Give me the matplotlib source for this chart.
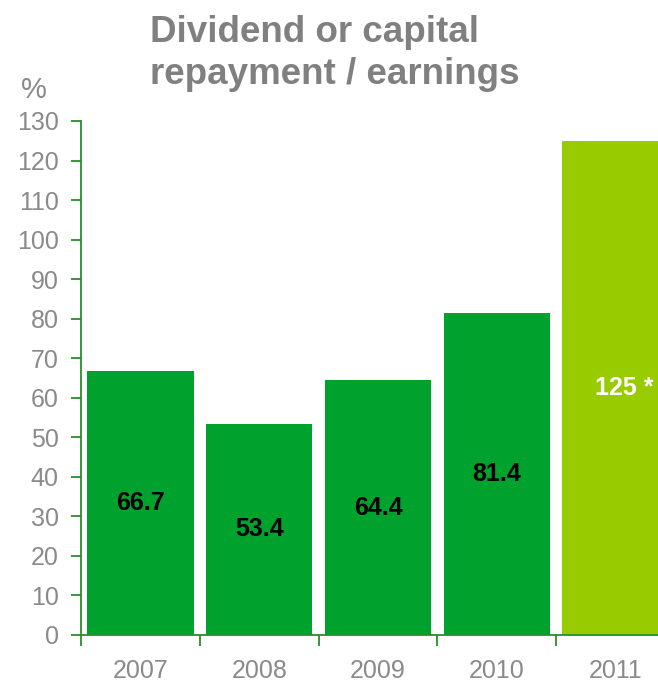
import matplotlib
matplotlib.use('Agg')
import matplotlib.pyplot as plt
from matplotlib.ticker import FixedLocator

years = ['2007', '2008', '2009', '2010', '2011']
payout = [66.7, 53.4, 64.4, 81.4, 125]
labels = ['66.7', '53.4', '64.4', '81.4', '125 *']
colors = ['#00a22e', '#00a22e', '#00a22e', '#00a22e', '#99cc00']

plt.rcParams['font.family'] = ['Liberation Sans', 'DejaVu Sans']
grey = '#8a8a8a'
axis_green = '#2a8f2a'

fig = plt.figure(figsize=(6.58, 6.85), dpi=100)
ax = fig.add_axes([81 / 658, 1 - 635 / 685, 1 - 81 / 658, (635 - 121) / 685])

x = list(range(len(years)))
ax.bar(x, payout, width=0.895, color=colors, zorder=2)

for i, (v, lab) in enumerate(zip(payout, labels)):
    if i == 4:
        ax.text(3.83, v / 2, lab, ha='left', va='center', fontsize=18,
                fontweight='bold', color='white', zorder=3)
    else:
        ax.text(i, v / 2, lab, ha='center', va='center', fontsize=18,
                fontweight='bold', color='black', zorder=3)

ax.set_xlim(-0.5, -0.5 + 577 / 118.8)
ax.set_ylim(0, 130)
ax.set_yticks(range(0, 131, 10))
ax.set_xticks(x)
ax.set_xticklabels(years)
ax.xaxis.set_minor_locator(FixedLocator([-0.5, 0.5, 1.5, 2.5, 3.5]))

for s in ['top', 'right']:
    ax.spines[s].set_visible(False)
for s in ['left', 'bottom']:
    ax.spines[s].set_color(axis_green)
    ax.spines[s].set_linewidth(1.3)

ax.tick_params(axis='y', direction='out', length=7, width=1.3, color=axis_green,
               labelcolor=grey, labelsize=18, pad=9)
ax.tick_params(axis='x', which='major', length=0, labelcolor=grey, labelsize=18, pad=17)
ax.tick_params(axis='x', which='minor', direction='out', length=8, width=1.3, color=axis_green)

fig.text(150 / 658, 1 - 42 / 685, 'Dividend or capital', ha='left', va='baseline',
         fontsize=26.5, fontweight='bold', color='#808080')
fig.text(150 / 658, 1 - 84 / 685, 'repayment / earnings', ha='left', va='baseline',
         fontsize=26.5, fontweight='bold', color='#808080')
fig.text(21 / 658, 1 - 98 / 685, '%', ha='left', va='baseline', fontsize=21, color=grey)

fig.savefig('out.png', dpi=100)
